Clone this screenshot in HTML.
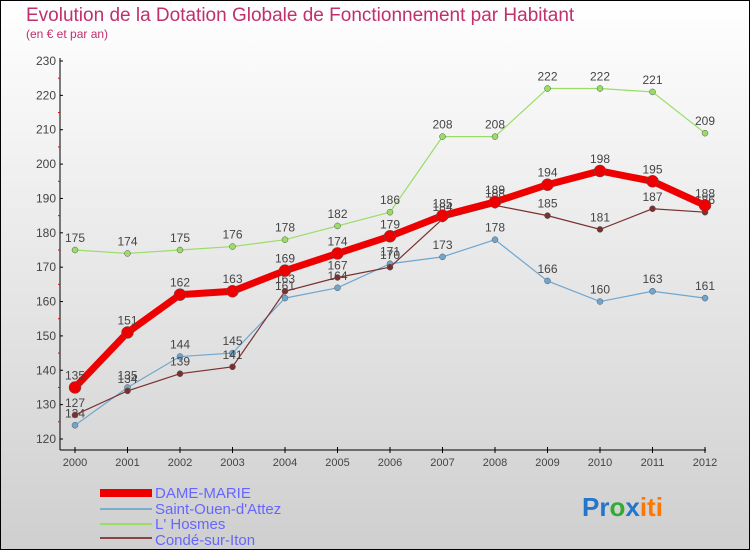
<!DOCTYPE html>
<html><head><meta charset="utf-8"><style>
body{margin:0;width:750px;height:550px;overflow:hidden;font-family:"Liberation Sans",sans-serif}
</style></head><body>
<svg width="750" height="550" id="c" xmlns="http://www.w3.org/2000/svg">
<defs><linearGradient id="bg" x1="0" y1="0" x2="0" y2="1"><stop offset="0" stop-color="#ffffff"/><stop offset="1" stop-color="#cfcfcf"/></linearGradient></defs>
<rect x="0.5" y="0.5" width="749" height="549" fill="url(#bg)" stroke="#000"/>
<text x="26" y="21" font-size="19" fill="#c0306a">Evolution de la Dotation Globale de Fonctionnement par Habitant</text>
<text x="26" y="38" font-size="12" fill="#c0306a">(en € et par an)</text>
<g id="axes"></g><g id="series"></g>
<g>
<rect x="100" y="489" width="52" height="8" fill="#e00"/>
<text x="155" y="498" font-size="15" fill="#6666ff">DAME-MARIE</text>
<rect x="100" y="508" width="52" height="2" fill="#7aaed0"/>
<text x="155" y="514" font-size="15" fill="#6666ff">Saint-Ouen-d'Attez</text>
<rect x="100" y="523" width="52" height="2" fill="#99dd66"/>
<text x="155" y="529" font-size="15" fill="#6666ff">L' Hosmes</text>
<rect x="100" y="537" width="52" height="2" fill="#884444"/>
<text x="155" y="545" font-size="15" fill="#6666ff">Condé-sur-Iton</text>
</g>
<text x="582" y="516" font-size="26" font-weight="bold"><tspan fill="#2277cc">Pr</tspan><tspan fill="#33aa33">o</tspan><tspan fill="#2277cc">x</tspan><tspan fill="#ff7700">iti</tspan></text>
</svg>
<script>
const years=[2000,2001,2002,2003,2004,2005,2006,2007,2008,2009,2010,2011,2012];
const yTicks=[120,130,140,150,160,170,180,190,200,210,220,230];
const dameMarie=[135,151,162,163,169,174,179,185,189,194,198,195,188];
const saintOuen=[124,135,144,145,161,164,171,173,178,166,160,163,161];
const lHosmes=[175,174,175,176,178,182,186,208,208,222,222,221,209];
const conde=[127,134,139,141,163,167,170,184,188,185,181,187,186];
const NS="http://www.w3.org/2000/svg";
function xs(i){return 75+i*(705-75)/12;}
function ys(v){return 439-(v-120)*(439-61)/110;}
function mk(t,a,p){const e=document.createElementNS(NS,t);for(const k in a)e.setAttribute(k,a[k]);p.appendChild(e);return e;}
const ax=document.getElementById('axes');
let e=mk('line',{x1:60,y1:58,x2:60,y2:450,stroke:'#000'},ax);


e=mk('line',{x1:60,y1:450,x2:706,y2:450,stroke:'#000'},ax);


yTicks.forEach(v=>{
 mk('line',{x1:60,y1:ys(v),x2:63,y2:ys(v),stroke:'#000'},ax);
 const t=mk('text',{x:56,y:ys(v)+4,'font-size':12,'text-anchor':'end',fill:'#444'},ax);t.textContent=v;
 
 
 if(v<230)mk('line',{x1:58,y1:ys(v+5),x2:60,y2:ys(v+5),stroke:'#e00'},ax);
});
years.forEach((y,i)=>{
 mk('line',{x1:xs(i),y1:447,x2:xs(i),y2:453,stroke:'#000'},ax);
 const t=mk('text',{x:xs(i),y:466,'font-size':11,'text-anchor':'middle',fill:'#444'},ax);t.textContent=y;
 
 
});
const sg=document.getElementById('series');
function draw(data,color,w,r,name){
 const g=mk('g',{},sg);
 
 
 mk('polyline',{points:data.map((v,i)=>xs(i)+','+ys(v)).join(' '),fill:'none',stroke:color,'stroke-width':w},g);
 data.forEach((v,i)=>{
  const c=mk('circle',{cx:xs(i),cy:ys(v),r:r,fill:color,stroke:'#555','stroke-width':0.5},g);
  
  
  const t=mk('text',{x:xs(i),y:ys(v)-8,'font-size':12,'text-anchor':'middle',fill:'#444'},g);t.textContent=v;
  
  
 });
}
draw(lHosmes,'#99dd66',1.2,3,'series-lhosmes');
draw(saintOuen,'#6fa6d0',1.2,3,'series-saint-ouen');
draw(conde,'#7a3030',1.2,3,'series-conde');
draw(dameMarie,'#ee0000',7,6,'series-dame-marie');
</script>
</body></html>
